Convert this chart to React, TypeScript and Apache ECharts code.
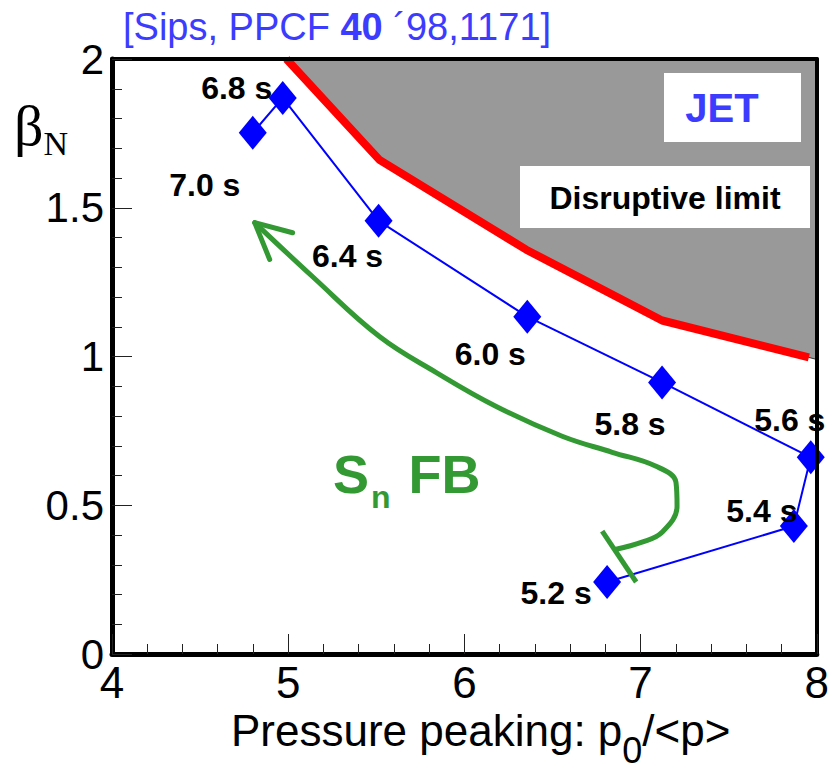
import React, { useEffect, useRef } from "react";
import * as echarts from "echarts";

// Time stamps of the JET discharge (labels of the points)
const timeLabels = ["5.2 s", "5.4 s", "5.6 s", "5.8 s", "6.0 s", "6.4 s", "6.8 s", "7.0 s"];
// Pressure peaking p0/<p>
const peakingX = [6.81, 7.87, 7.966, 7.122, 6.357, 5.513, 4.969, 4.799];
// beta_N
const betaY = [0.242, 0.43, 0.661, 0.913, 1.134, 1.456, 1.869, 1.752];

// Disruptive limit (red line)
const limitX = [4.99, 5.518, 6.351, 7.122, 7.955];
const limitY = [2.0, 1.661, 1.359, 1.121, 0.997];
// edge point of the grey region at the right border
const greyEdgeX = [8.0];
const greyEdgeY = [0.99];

// Sn feedback path (green arrow)
const fbX = [6.861, 7.008, 7.122, 7.207, 7.201, 7.088, 6.839, 6.555, 6.181, 5.841, 5.518, 5.139, 4.81];
const fbY = [0.352, 0.376, 0.409, 0.497, 0.577, 0.631, 0.678, 0.732, 0.832, 0.946, 1.067, 1.268, 1.45];
// arrow head (wing, tip, wing)
const arrowX = [5.025, 4.81, 4.895];
const arrowY = [1.416, 1.45, 1.326];
// start bar of the feedback path
const barX = [6.782, 6.975];
const barY = [0.413, 0.242];

// axis ticks
const xMin = 4, xMax = 8, xStep = 1;
const yMin = 0, yMax = 2, yStep = 0.5;

// label placement (pixels, relative to the marker centre)
const labelOffsets: [number, number][] = [
  [-51, 11], [-32, -15], [-21, -37], [-32, 42], [-37, 37], [-31, 35], [-46, -10], [-48, 52],
];

const SANS = "'Liberation Sans', Arial, Helvetica, sans-serif";
const SERIF = "'Liberation Serif', 'Times New Roman', serif";
const GREEN = "#339933";
const TITLE_BLUE = "#3c3cff";

const zip = (xs: number[], ys: number[]) => xs.map((x, i) => [x, ys[i]]);

const frameAxis = {
  type: "value",
  axisLine: { show: true, onZero: false, lineStyle: { color: "#000", width: 4 } },
  axisTick: { show: false },
  axisLabel: { show: false },
  splitLine: { show: false },
  z: 10,
};

export default function App() {
  const ref = useRef<HTMLDivElement>(null);
  useEffect(() => {
    if (!ref.current) return;
    const chart = echarts.init(ref.current, null, { renderer: "svg" });
    const blueData = peakingX.map((x, i) => ({
      name: timeLabels[i],
      value: [x, betaY[i]],
      label: { offset: labelOffsets[i] },
    }));
    chart.setOption({
      animation: false,
      backgroundColor: "#fff",
      grid: {
        left: 112,
        top: 59,
        width: 706,
        height: 595,
        show: false,
      },
      xAxis: [
        {
          type: "value",
          min: xMin,
          max: xMax,
          interval: xStep,
          z: 10,
          axisLine: { show: true, onZero: false, lineStyle: { color: "#000", width: 5 } },
          axisTick: { show: true, inside: true, length: 20, lineStyle: { color: "#222", width: 1 } },
          minorTick: { show: true, splitNumber: 5, length: 10, lineStyle: { color: "#222", width: 1 } },
          splitLine: { show: false },
          axisLabel: { color: "#000", fontSize: 44, fontFamily: SANS, margin: 6 },
        },
        { ...frameAxis, position: "top", min: xMin, max: xMax, interval: xStep },
      ],
      yAxis: [
        {
          type: "value",
          min: yMin,
          max: yMax,
          interval: yStep,
          z: 10,
          axisLine: { show: true, onZero: false, lineStyle: { color: "#000", width: 5 } },
          axisTick: { show: true, inside: true, length: 20, lineStyle: { color: "#222", width: 1 } },
          minorTick: { show: true, splitNumber: 5, length: 10, lineStyle: { color: "#222", width: 1 } },
          splitLine: { show: false },
          axisLabel: { color: "#000", fontSize: 42, fontFamily: SANS, margin: 8 },
        },
        { ...frameAxis, position: "right", min: yMin, max: yMax, interval: yStep },
      ],
      series: [
        {
          type: "line",
          name: "grey",
          data: zip(limitX.concat(greyEdgeX), limitY.concat(greyEdgeY)),
          symbol: "none",
          lineStyle: { width: 1, color: "#333" },
          areaStyle: { color: "#999999", origin: "end", opacity: 1 },
          z: 1,
          silent: true,
        },
        {
          type: "line",
          name: "Disruptive limit",
          data: zip(limitX, limitY),
          symbol: "none",
          lineStyle: { width: 8, color: "#ff0000" },
          z: 2,
        },
        {
          type: "line",
          name: "JET",
          data: blueData,
          symbol: "diamond",
          symbolSize: [28, 34],
          itemStyle: { color: "#0000ff" },
          lineStyle: { width: 2, color: "#0000ff" },
          label: {
            show: true,
            position: "inside",
            formatter: "{b}",
            color: "#000",
            fontSize: 32,
            fontWeight: "bold",
            fontFamily: SANS,
          },
          z: 4,
        },
        {
          type: "line",
          name: "Sn FB",
          data: zip(fbX, fbY),
          smooth: 0.4,
          symbol: "none",
          lineStyle: { width: 5, color: GREEN, cap: "round" },
          z: 5,
        },
        {
          type: "line",
          name: "arrow",
          data: zip(arrowX, arrowY),
          symbol: "none",
          lineStyle: { width: 5, color: GREEN, cap: "round", join: "round" },
          z: 5,
        },
        {
          type: "line",
          name: "bar",
          data: zip(barX, barY),
          symbol: "none",
          lineStyle: { width: 5, color: GREEN },
          z: 5,
        },
      ],
      graphic: [
        {
          type: "text",
          left: 123,
          top: 8,
          z: 100,
          style: {
            text: "[Sips, PPCF {b|40} ´98,1171]",
            fill: TITLE_BLUE,
            fontSize: 38,
            fontFamily: SANS,
            rich: { b: { fontSize: 38, fontWeight: "bold", fontFamily: SANS, fill: TITLE_BLUE } },
          },
        },
        {
          type: "text",
          left: 14,
          top: 96,
          z: 100,
          style: {
            text: "{b|β}{n|N}",
            fill: "#000",
            rich: {
              b: { fontSize: 58, fontFamily: SERIF, fill: "#000", verticalAlign: "top", lineHeight: 60 },
              n: { fontSize: 34, fontFamily: SERIF, fill: "#000", verticalAlign: "top", lineHeight: 36, padding: [30, 0, 0, 0] },
            },
          },
        },
        {
          type: "text",
          left: 231,
          top: 708,
          z: 100,
          style: {
            text: "{m|Pressure peaking: p}{s|0}{m|/<p>}",
            fill: "#000",
            rich: {
              m: { fontSize: 44, fontFamily: SANS, fill: "#000", verticalAlign: "top", lineHeight: 48 },
              s: { fontSize: 36, fontFamily: SANS, fill: "#000", verticalAlign: "top", lineHeight: 40, padding: [24, 0, 0, 0] },
            },
          },
        },
        {
          type: "rect",
          z: 100,
          shape: { x: 664, y: 73, width: 137, height: 69 },
          style: { fill: "#fff" },
        },
        {
          type: "text",
          z: 101,
          x: 722,
          y: 108,
          style: {
            text: "JET",
            fill: TITLE_BLUE,
            fontSize: 40,
            fontWeight: "bold",
            fontFamily: SANS,
            align: "center",
            verticalAlign: "middle",
          },
        },
        {
          type: "rect",
          z: 100,
          shape: { x: 520, y: 166, width: 290, height: 62 },
          style: { fill: "#fff" },
        },
        {
          type: "text",
          z: 101,
          x: 665,
          y: 198,
          style: {
            text: "Disruptive limit",
            fill: "#000",
            fontSize: 32,
            fontWeight: "bold",
            fontFamily: SANS,
            align: "center",
            verticalAlign: "middle",
          },
        },
        {
          type: "text",
          z: 101,
          left: 333,
          top: 447,
          style: {
            text: "{a|S}{n|n}{a| FB}",
            fill: GREEN,
            rich: {
              a: { fontSize: 54, fontWeight: "bold", fontFamily: SANS, fill: GREEN, verticalAlign: "top", lineHeight: 58 },
              n: { fontSize: 32, fontWeight: "bold", fontFamily: SANS, fill: GREEN, verticalAlign: "top", lineHeight: 34, padding: [34, 3, 0, 2] },
            },
          },
        },
      ],
    });
    return () => chart.dispose();
  }, []);
  return (
    <div
      ref={ref}
      style={{ position: "absolute", left: 0, top: 0, width: 832, height: 777 }}
    />
  );
}
